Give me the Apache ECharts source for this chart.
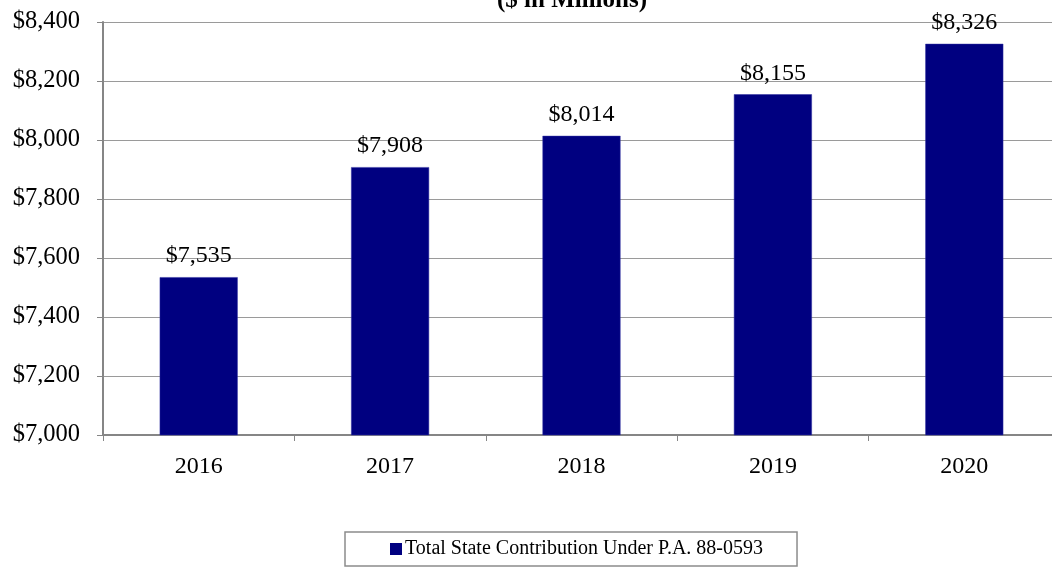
<!DOCTYPE html>
<html>
<head>
<meta charset="utf-8">
<script src="https://cdn.jsdelivr.net/npm/echarts@6/dist/echarts.min.js"></script>
<style>
  html, body { margin: 0; padding: 0; background: #ffffff; }
  #chart { width: 1052px; height: 568px; }
</style>
</head>
<body>
<div id="chart"></div>
<script>
// Fiscal years and the state contribution for each ($ in millions)
const years = ['2016', '2017', '2018', '2019', '2020'];
const contributions = [7535, 7908, 8014, 8155, 8326];
const seriesName = 'Total State Contribution Under P.A. 88-0593';
const subtitle = '($ in Millions)';

const serif = '"Liberation Serif", "Times New Roman", serif';
const fmtMoney = v => '$' + v.toLocaleString('en-US');

const chart = echarts.init(document.getElementById('chart'), null, { renderer: 'canvas' });

chart.setOption({
  animation: false,
  backgroundColor: '#ffffff',
  title: {
    text: subtitle,
    left: 567,
    textAlign: 'center',
    top: -17,
    textStyle: { fontFamily: serif, fontWeight: 'bold', fontSize: 25, color: '#000000' }
  },
  // plot area runs slightly past the right edge of the canvas
  grid: { left: 103, right: -8, top: 22, bottom: 133, containLabel: false, outerBoundsMode: 'none' },
  xAxis: {
    type: 'category',
    data: years,
    boundaryGap: true,
    axisLine: { lineStyle: { color: '#868686', width: 2 } },
    axisTick: { show: true, length: 6, alignWithLabel: false, lineStyle: { color: '#868686', width: 1 } },
    axisLabel: { fontFamily: serif, fontSize: 24, color: '#000000', margin: 20 }
  },
  yAxis: {
    type: 'value',
    min: 7000,
    max: 8400,
    interval: 200,
    axisLine: { show: true, lineStyle: { color: '#868686', width: 2 } },
    axisTick: { show: true, length: 6, lineStyle: { color: '#868686', width: 1 } },
    splitLine: { show: true, lineStyle: { color: '#9a9a9a', width: 1 } },
    axisLabel: {
      fontFamily: serif, fontSize: 24.5, color: '#000000', margin: 23,
      formatter: v => fmtMoney(v)
    }
  },
  legend: {
    data: [seriesName],
    left: 345,
    top: 532,
    padding: [7, 34, 7, 45],
    borderColor: '#8c8c8c',
    borderWidth: 1.5,
    borderRadius: 0,
    icon: 'rect',
    itemWidth: 12,
    itemHeight: 12,
    itemStyle: { borderWidth: 0 },
    textStyle: { fontFamily: serif, fontSize: 20, color: '#000000', padding: [0, 0, 0, -2] }
  },
  series: [{
    name: seriesName,
    type: 'bar',
    data: contributions,
    barWidth: 78,
    itemStyle: { color: '#000080', borderColor: '#3030a0', borderWidth: 0.5 },
    label: {
      show: true,
      position: 'top',
      distance: 9,
      fontFamily: serif,
      fontSize: 24,
      color: '#000000',
      formatter: p => fmtMoney(p.value)
    }
  }]
});
</script>
</body>
</html>
